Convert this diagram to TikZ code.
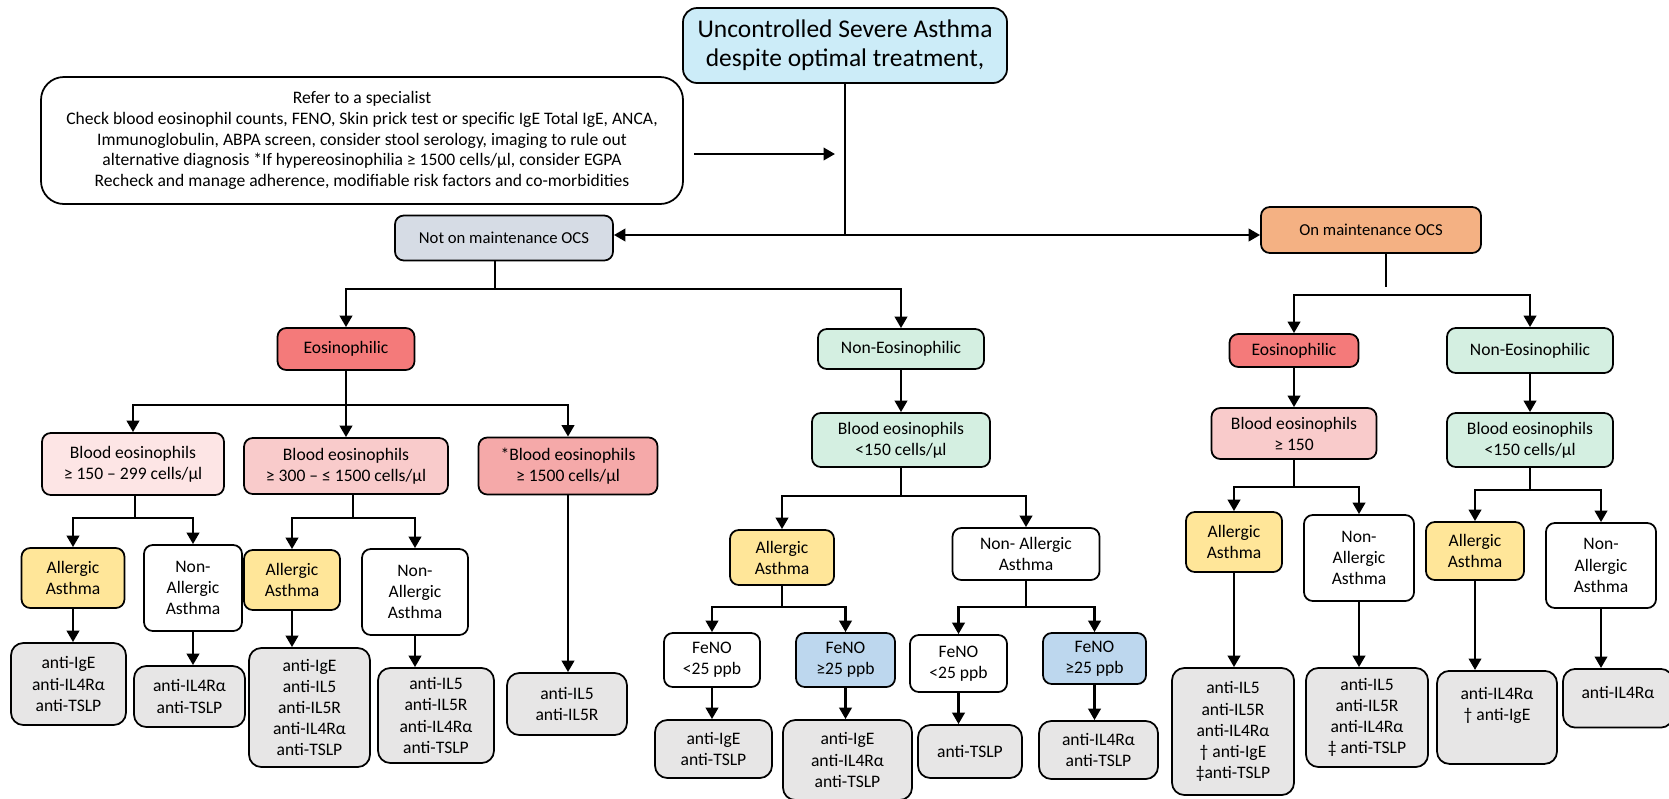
\documentclass[tikz,border=0pt]{standalone}
\usepackage{fontspec}
\setmainfont{Carlito}
\usepackage{xcolor}
\usepackage{tikz}
\usetikzlibrary{arrows.meta}
\definecolor{asthcyan}{HTML}{CCECF8}
\definecolor{asthslate}{HTML}{D6DCE5}
\definecolor{asthorange}{HTML}{F4B183}
\definecolor{asthred}{HTML}{F47A7A}
\definecolor{asthmint}{HTML}{D4EFE1}
\definecolor{asthpinklow}{HTML}{FDE5E5}
\definecolor{asthpinkmid}{HTML}{F9CBCB}
\definecolor{asthpinkhigh}{HTML}{F5A9A9}
\definecolor{asthyellow}{HTML}{FFE699}
\definecolor{asthblue}{HTML}{BDD7EE}
\definecolor{asthgrey}{HTML}{E7E6E6}

\begin{document}
\begin{tikzpicture}[
    box/.style={rectangle,rounded corners=5pt,draw=black,line width=1pt,
                align=center,inner sep=2pt,font=\fontsize{10}{12}\selectfont},
    drug/.style={box,fill=asthgrey,rounded corners=7pt},
    allergic/.style={box,fill=asthyellow},
    nonallergic/.style={box,fill=white},
    conn/.style={line width=1.5pt},
    arr/.style={conn,-{Triangle[length=6.5pt,width=7pt]}},
  ]
    \useasboundingbox (0,0) rectangle (33.38,-15.96);
    \clip (0,0) rectangle (33.38,-15.96);

    % start box and work-up box
    \node[box,fill=asthcyan,rounded corners=8pt,minimum width=6.48cm,minimum height=1.5cm,
          font=\fontsize{14.5}{16.5}\selectfont] (top) at (16.90,-0.91)
          {Uncontrolled Severe Asthma\\despite optimal treatment,};
    \node[box,rounded corners=13pt,minimum width=12.84cm,minimum height=2.54cm,
          font=\fontsize{10}{11.8}\selectfont] (refer) at (7.24,-2.81)
          {Refer to a specialist\\
           Check blood eosinophil counts, FENO, Skin prick test or specific IgE Total IgE, ANCA,\\
           Immunoglobulin, ABPA screen, consider stool serology, imaging to rule out\\
           alternative diagnosis *If hypereosinophilia ≥ 1500 cells/µl,  consider EGPA\\
           Recheck and manage adherence, modifiable risk factors and co-morbidities};

    % OCS split
    \node[box,fill=asthslate,minimum width=4.36cm,minimum height=0.9cm,
          font=\fontsize{9.5}{11}\selectfont] (notocs) at (10.08,-4.76) {Not on maintenance OCS};
    \node[box,fill=asthorange,minimum width=4.40cm,minimum height=0.92cm,
          font=\fontsize{9.5}{11}\selectfont] (onocs) at (27.42,-4.60) {On maintenance OCS};

    % not on maintenance OCS
    \node[box,fill=asthred,minimum width=2.74cm,minimum height=0.84cm] (eos) at (6.92,-6.98) {Eosinophilic};
    \node[box,fill=asthmint,minimum width=3.32cm,minimum height=0.8cm] (noneos) at (18.02,-6.98) {Non-Eosinophilic};

    \node[box,fill=asthpinklow,minimum width=3.64cm,minimum height=1.24cm] (bllow) at (2.66,-9.28)
          {Blood eosinophils\\≥ 150 – 299 cells/µl};
    \node[box,fill=asthpinkmid,minimum width=4.08cm,minimum height=1.12cm] (blmid) at (6.92,-9.32)
          {Blood eosinophils\\≥ 300 – ≤ 1500 cells/µl};
    \node[box,fill=asthpinkhigh,minimum width=3.58cm,minimum height=1.14cm] (blhigh) at (11.36,-9.32)
          {*Blood eosinophils\\≥ 1500 cells/µl};
    \node[box,fill=asthmint,minimum width=3.56cm,minimum height=1.08cm] (blnone) at (18.02,-8.80)
          {Blood eosinophils\\<150 cells/µl};

    \node[allergic,minimum width=2.06cm,minimum height=1.2cm] (allow) at (1.46,-11.56) {Allergic\\Asthma};
    \node[nonallergic,minimum width=1.96cm,minimum height=1.72cm] (nallow) at (3.86,-11.76) {Non-\\Allergic\\Asthma};
    \node[allergic,minimum width=1.92cm,minimum height=1.2cm] (almid) at (5.84,-11.60) {Allergic\\Asthma};
    \node[nonallergic,minimum width=2.12cm,minimum height=1.72cm] (nalmid) at (8.30,-11.84) {Non-\\Allergic\\Asthma};
    \node[allergic,minimum width=2.08cm,minimum height=1.1cm] (alnone) at (15.64,-11.15) {Allergic\\Asthma};
    \node[nonallergic,minimum width=2.94cm,minimum height=1.04cm] (nalnone) at (20.52,-11.08) {Non- Allergic\\Asthma};

    \node[box,fill=white,minimum width=1.92cm,minimum height=1.08cm] (fenolowa) at (14.24,-13.20) {FeNO\\<25 ppb};
    \node[box,fill=asthblue,minimum width=1.98cm,minimum height=1.08cm] (fenohigha) at (16.91,-13.20) {FeNO\\≥25 ppb};
    \node[box,fill=white,minimum width=1.94cm,minimum height=1.14cm] (fenolowb) at (19.17,-13.27) {FeNO\\<25 ppb};
    \node[box,fill=asthblue,minimum width=2.06cm,minimum height=1.02cm] (fenohighb) at (21.89,-13.17) {FeNO\\≥25 ppb};

    \node[drug,minimum width=2.3cm,minimum height=1.64cm] (drallow) at (1.37,-13.68) {anti-IgE\\anti-IL4Rα\\anti-TSLP};
    \node[drug,minimum width=2.22cm,minimum height=1.22cm] (drnallow) at (3.79,-13.93) {anti-IL4Rα\\anti-TSLP};
    \node[drug,minimum width=2.42cm,minimum height=2.38cm] (dralmid) at (6.19,-14.15)
          {anti-IgE\\anti-IL5\\anti-IL5R\\anti-IL4Rα\\anti-TSLP};
    \node[drug,minimum width=2.32cm,minimum height=1.9cm] (drnalmid) at (8.72,-14.31)
          {anti-IL5\\anti-IL5R\\anti-IL4Rα\\anti-TSLP};
    \node[drug,minimum width=2.4cm,minimum height=1.24cm] (drhigh) at (11.34,-14.08) {anti-IL5\\anti-IL5R};
    \node[drug,minimum width=2.34cm,minimum height=1.16cm] (drfenolowa) at (14.27,-14.98) {anti-IgE\\anti-TSLP};
    \node[drug,minimum width=2.58cm,minimum height=1.6cm] (drfenohigha) at (16.95,-15.20) {anti-IgE\\anti-IL4Rα\\anti-TSLP};
    \node[drug,minimum width=2.08cm,minimum height=1.06cm] (drfenolowb) at (19.40,-15.03) {anti-TSLP};
    \node[drug,minimum width=2.38cm,minimum height=1.16cm] (drfenohighb) at (21.97,-15.00) {anti-IL4Rα\\anti-TSLP};

    % on maintenance OCS
    \node[box,fill=asthred,minimum width=2.58cm,minimum height=0.66cm] (eosr) at (25.88,-7.01) {Eosinophilic};
    \node[box,fill=asthmint,minimum width=3.32cm,minimum height=0.9cm] (noneosr) at (30.60,-7.01) {Non-Eosinophilic};
    \node[box,fill=asthpinkmid,minimum width=3.3cm,minimum height=1.02cm] (blr) at (25.88,-8.67) {Blood eosinophils\\≥ 150};
    \node[box,fill=asthmint,minimum width=3.32cm,minimum height=1.08cm] (blnoner) at (30.60,-8.80) {Blood eosinophils\\<150 cells/µl};

    \node[allergic,minimum width=1.92cm,minimum height=1.2cm] (alr) at (24.68,-10.84) {Allergic\\Asthma};
    \node[nonallergic,minimum width=2.2cm,minimum height=1.72cm] (nalr) at (27.18,-11.16) {Non-\\Allergic\\Asthma};
    \node[allergic,minimum width=1.96cm,minimum height=1.16cm] (alnoner) at (29.50,-11.02) {Allergic\\Asthma};
    \node[nonallergic,minimum width=2.2cm,minimum height=1.7cm] (nalnoner) at (32.02,-11.31) {Non-\\Allergic\\Asthma};

    \node[drug,minimum width=2.44cm,minimum height=2.54cm] (dralr) at (24.66,-14.63)
          {anti-IL5\\anti-IL5R\\anti-IL4Rα\\† anti-IgE\\‡anti-TSLP};
    \node[drug,minimum width=2.44cm,minimum height=1.98cm] (drnalr) at (27.34,-14.35)
          {anti-IL5\\anti-IL5R\\anti-IL4Rα\\‡ anti-TSLP};
    % these two keep their text at the top of the box
    \node[drug,anchor=north,minimum width=2.4cm,inner ysep=9.5pt,text depth=15pt] (dralnoner) at (29.94,-13.40)
          {anti-IL4Rα\\† anti-IgE};
    \node[drug,anchor=north,minimum width=2.2cm,inner ysep=10pt,text depth=6.5pt] (drnalnoner) at (32.36,-13.36)
          {anti-IL4Rα};

    % connectors, top part
    \coordinate (split) at (16.90,-4.70);
    \coordinate (referout) at (13.88,-3.08);
    \coordinate (referin) at (16.70,-3.08);
    \draw[conn] (top.south) -- (split);
    \draw[arr] (referout) -- (referin);
    \draw[arr] (split) -- (notocs.east |- split);
    \draw[arr] (split) -- (onocs.west |- split);

    % connectors, not on maintenance OCS
    \coordinate (nsplit) at (9.90,-5.78);
    \draw[conn] (nsplit |- notocs.south) -- (nsplit);
    \draw[arr] (nsplit) -| (eos.north);
    \draw[arr] (nsplit) -| (noneos.north);

    \coordinate (esplit) at (6.92,-8.10);
    \draw[conn] (eos.south) -- (esplit);
    \draw[arr] (esplit) -| (bllow.north);
    \draw[arr] (esplit) -- (blmid.north);
    \draw[arr] (esplit) -| (blhigh.north);

    \coordinate (lowsplit) at (2.70,-10.36);
    \draw[conn] (lowsplit |- bllow.south) -- (lowsplit);
    \draw[arr] (lowsplit) -| (allow.north);
    \draw[arr] (lowsplit) -| (nallow.north);
    \coordinate (midsplit) at (7.06,-10.36);
    \draw[conn] (midsplit |- blmid.south) -- (midsplit);
    \draw[arr] (midsplit) -| (almid.north);
    \draw[arr] (midsplit) -| (nalmid.north);
    \draw[arr] (blhigh.south) -- (blhigh.south |- drhigh.north);

    \draw[arr] (allow.south) -- (allow.south |- drallow.north);
    \draw[arr] (nallow.south) -- (nallow.south |- drnallow.north);
    \draw[arr] (almid.south) -- (almid.south |- dralmid.north);
    \draw[arr] (nalmid.south) -- (nalmid.south |- drnalmid.north);

    \draw[arr] (noneos.south) -- (blnone.north);
    \coordinate (nonesplit) at (18.02,-9.92);
    \draw[conn] (blnone.south) -- (nonesplit);
    \draw[arr] (nonesplit) -| (alnone.north);
    \draw[arr] (nonesplit) -| (nalnone.north);

    \coordinate (alsplit) at (15.64,-12.14);
    \draw[conn] (alnone.south) -- (alsplit);
    \draw[arr] (alsplit) -| (fenolowa.north);
    \draw[arr] (alsplit) -| (fenohigha.north);
    \coordinate (nalsplit) at (20.52,-12.14);
    \draw[conn] (nalnone.south) -- (nalsplit);
    \draw[arr] (nalsplit) -| (fenolowb.north);
    \draw[arr] (nalsplit) -| (fenohighb.north);

    \draw[arr] (fenolowa.south) -- (fenolowa.south |- drfenolowa.north);
    \draw[arr] (fenohigha.south) -- (fenohigha.south |- drfenohigha.north);
    \draw[arr] (fenolowb.south) -- (fenolowb.south |- drfenolowb.north);
    \draw[arr] (fenohighb.south) -- (fenohighb.south |- drfenohighb.north);

    % connectors, on maintenance OCS (stem stops just short of the bar)
    \coordinate (osplit) at (27.72,-5.74);
    \coordinate (obar) at (27.72,-5.90);
    \draw[conn] (osplit |- onocs.south) -- (osplit);
    \draw[arr] (obar) -| (eosr.north);
    \draw[arr] (obar) -| (noneosr.north);
    \draw[arr] (eosr.south) -- (blr.north);
    \draw[arr] (noneosr.south) -- (blnoner.north);

    \coordinate (rsplit) at (25.88,-9.74);
    \draw[conn] (blr.south) -- (rsplit);
    \draw[arr] (rsplit) -| (alr.north);
    \draw[arr] (rsplit) -| (nalr.north);
    \coordinate (rnonesplit) at (30.60,-9.80);
    \draw[conn] (blnoner.south) -- (rnonesplit);
    \draw[arr] (rnonesplit) -| (alnoner.north);
    \draw[arr] (rnonesplit) -| (nalnoner.north);

    \draw[arr] (alr.south) -- (alr.south |- dralr.north);
    \draw[arr] (nalr.south) -- (nalr.south |- drnalr.north);
    \draw[arr] (alnoner.south) -- (alnoner.south |- dralnoner.north);
    \draw[arr] (nalnoner.south) -- (nalnoner.south |- drnalnoner.north);
  \end{tikzpicture}
\end{document}
